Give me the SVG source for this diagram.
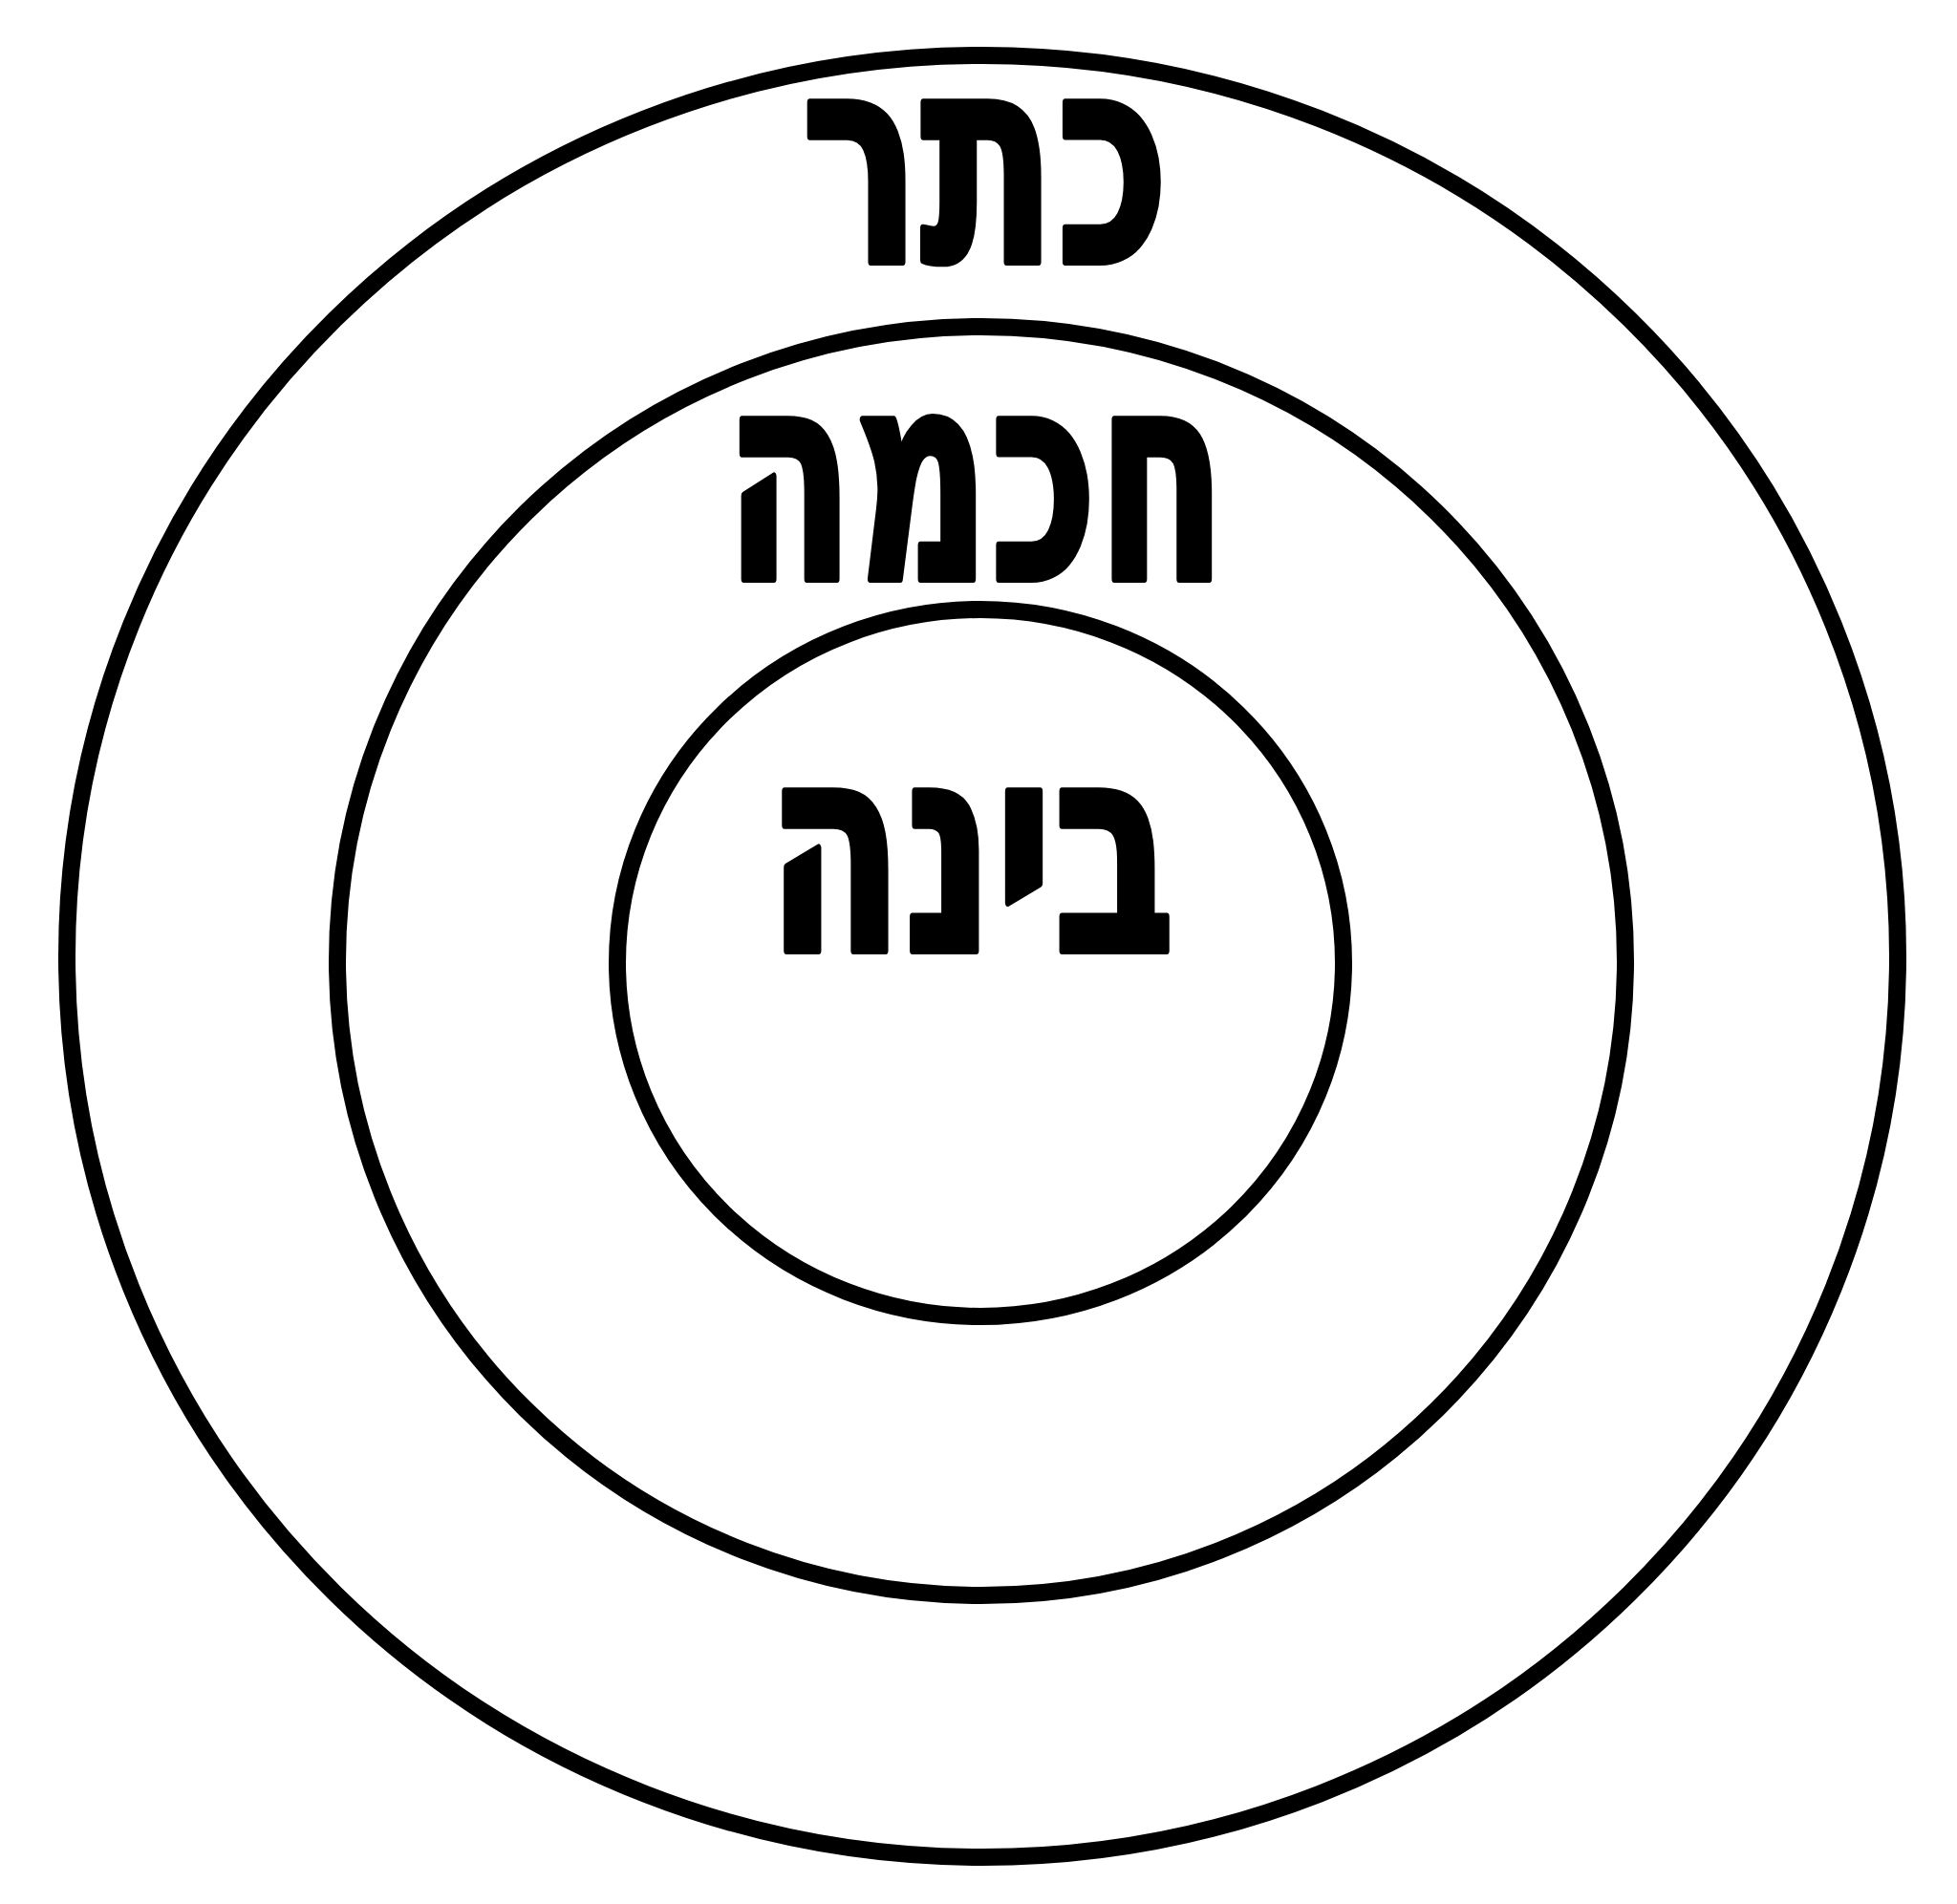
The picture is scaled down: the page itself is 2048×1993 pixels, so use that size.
<svg xmlns="http://www.w3.org/2000/svg" width="2048" height="1993" viewBox="0 0 2048 1993">
<style>
.ring{fill:none;stroke:#000;stroke-width:18}
.lbl{font-family:"DejaVu Sans","Liberation Sans",sans-serif;font-weight:bold;font-size:305px;fill:#000;stroke:#000;stroke-width:8;stroke-linejoin:round;text-anchor:middle}
</style>
<rect width="2048" height="1993" fill="#fff"/>
<g id="keter">
<ellipse class="ring" cx="1028" cy="1001" rx="958" ry="943"/>
<text class="lbl" x="1031" y="274" textLength="385" lengthAdjust="spacingAndGlyphs" direction="rtl">כתר</text>
</g>
<g id="chokhmah">
<ellipse class="ring" cx="1027" cy="1006" rx="674" ry="664"/>
<text class="lbl" x="1021" y="606" textLength="525" lengthAdjust="spacingAndGlyphs" direction="rtl">חכמה</text>
</g>
<g id="binah">
<ellipse class="ring" cx="1026" cy="1008" rx="380" ry="370"/>
<text class="lbl" x="1016" y="995" textLength="428" lengthAdjust="spacingAndGlyphs" direction="rtl">בינה</text>
</g>
<g id="connectors"/>
</svg>
